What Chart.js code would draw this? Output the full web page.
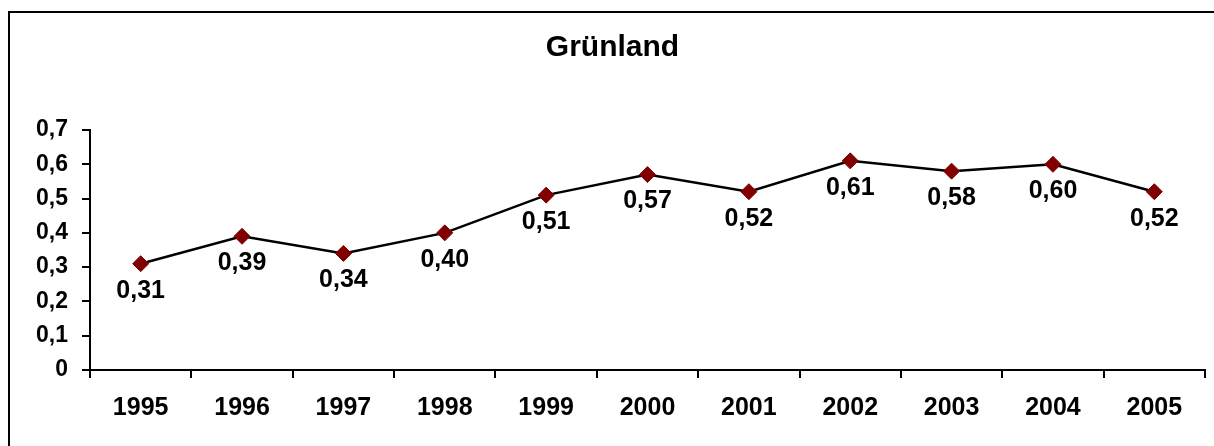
<!DOCTYPE html>
<html>
<head>
<meta charset="utf-8">
<title>Grünland</title>
<script src="https://cdn.jsdelivr.net/npm/chart.js@4/dist/chart.umd.min.js"></script>
<style>
    html, body { margin: 0; padding: 0; background: #fff; }
    #wrap { width: 1214px; height: 446px; }
</style>
</head>
<body>
<div id="wrap"><canvas id="chart" width="1214" height="446"></canvas></div>
<script>
// Data
const years = ['1995', '1996', '1997', '1998', '1999', '2000', '2001', '2002', '2003', '2004', '2005'];
const values = [0.31, 0.39, 0.34, 0.40, 0.51, 0.57, 0.52, 0.61, 0.58, 0.60, 0.52];
const yTicks = [0, 0.1, 0.2, 0.3, 0.4, 0.5, 0.6, 0.7];

const fontFamily = "'Liberation Sans', Arial, sans-serif";

function komma(v, digits) {
    return v.toFixed(digits).replace('.', ',');
}

// outer frame like the original chart object
const framePlugin = {
    id: 'frame',
    beforeDraw(chart) {
        const ctx = chart.ctx;
        ctx.save();
        ctx.fillStyle = '#fff';
        ctx.fillRect(0, 0, chart.width, chart.height);
        ctx.strokeStyle = '#000';
        ctx.lineWidth = 2;
        ctx.strokeRect(9, 12, chart.width + 50, chart.height + 50);
        ctx.restore();
    }
};

// value labels under every point
const labelPlugin = {
    id: 'valueLabels',
    afterDatasetsDraw(chart) {
        const ctx = chart.ctx;
        const meta = chart.getDatasetMeta(0);
        ctx.save();
        ctx.font = 'bold 25px ' + fontFamily;
        ctx.fillStyle = '#000';
        ctx.textAlign = 'center';
        ctx.textBaseline = 'middle';
        meta.data.forEach(function(pt, i) {
            ctx.fillText(komma(values[i], 2), pt.x, pt.y + 27);
        });
        ctx.restore();
    }
};

const ctx = document.getElementById('chart').getContext('2d');
new Chart(ctx, {
    type: 'line',
    data: {
        labels: years,
        datasets: [{
            label: 'Grünland',
            data: values,
            borderColor: '#000',
            borderWidth: 2.5,
            tension: 0,
            pointStyle: 'rectRot',
            pointRadius: 8,
            pointHoverRadius: 8,
            pointBackgroundColor: '#800000',
            pointBorderColor: '#800000',
            pointBorderWidth: 1
        }]
    },
    options: {
        responsive: false,
        animation: false,
        layout: {
            padding: { left: 20, right: 9, top: 0, bottom: 0 }
        },
        plugins: {
            legend: { display: false },
            tooltip: { enabled: false },
            title: {
                display: true,
                text: 'Grünland',
                color: '#000',
                font: { family: fontFamily, size: 30, weight: 'bold', lineHeight: 1.2 },
                padding: { top: 30, bottom: 64 }
            }
        },
        scales: {
            x: {
                offset: true,
                grid: {
                    offset: true,
                    drawOnChartArea: false,
                    color: '#000',
                    lineWidth: 2,
                    tickLength: 8
                },
                border: { color: '#000', width: 2 },
                ticks: {
                    color: '#000',
                    padding: 15,
                    maxRotation: 0,
                    font: { family: fontFamily, size: 25, weight: 'bold' }
                },
                afterFit(scale) { scale.height = 76; }
            },
            y: {
                min: 0,
                max: 0.7,
                afterBuildTicks(scale) {
                    scale.ticks = yTicks.map(v => ({ value: v }));
                },
                grid: {
                    drawOnChartArea: false,
                    color: '#000',
                    lineWidth: 2,
                    tickLength: 8
                },
                border: { color: '#000', width: 2 },
                ticks: {
                    color: '#000',
                    padding: 14,
                    font: { family: fontFamily, size: 23, weight: 'bold' },
                    callback: v => v === 0 ? '0' : komma(v, 1)
                },
                afterFit(scale) { scale.width = 70; }
            }
        }
    },
    plugins: [framePlugin, labelPlugin]
});
</script>
</body>
</html>
